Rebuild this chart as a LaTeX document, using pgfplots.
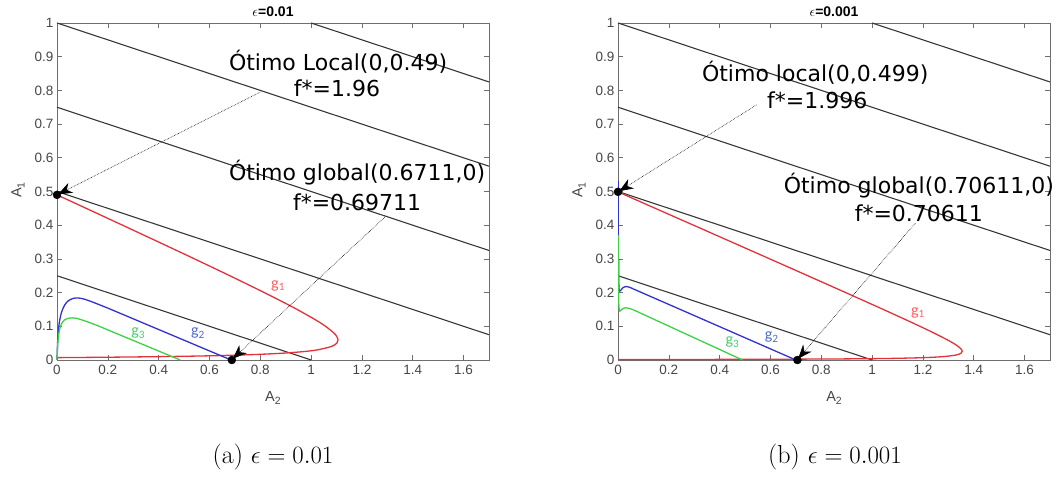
\documentclass[border=0pt]{standalone}
\usepackage{pgfplots}
\pgfplotsset{compat=1.18}
\usepackage{fontspec}
\usetikzlibrary{arrows.meta}
\newfontfamily\dejavu{DejaVu Sans}
\newfontfamily\arial{Liberation Sans}
\newfontfamily\carlito{Carlito}
\definecolor{cred}{RGB}{228,50,60}
\definecolor{cblue}{RGB}{50,50,205}
\definecolor{cgreen}{RGB}{60,210,70}
\definecolor{lred}{RGB}{255,95,95}
\definecolor{lblue}{RGB}{75,110,200}
\definecolor{lgreen}{RGB}{70,205,110}
\definecolor{cont}{RGB}{55,55,55}
\definecolor{tickgray}{RGB}{70,70,70}
\definecolor{axgray}{RGB}{110,110,110}

\pgfplotsset{
  mystyle/.style={
    scale only axis, width=432pt, height=337pt, anchor=south west,
    xmin=0, xmax=1.7, ymin=0, ymax=1, clip=false,
    xtick={0,0.2,0.4,0.6,0.8,1,1.2,1.4,1.6},
    ytick={0,0.1,0.2,0.3,0.4,0.5,0.6,0.7,0.8,0.9,1},
    tick align=inside, major tick length=5pt,
    every tick/.style={axgray, line width=0.6pt},
    axis line style={axgray, line width=0.9pt},
    /pgf/number format/assume math mode=true,
    tick label style={font=\arial\fontsize{13.5}{13.5}\selectfont, text=tickgray},
    xticklabel style={yshift=-2pt},
  },
  contour/.style={cont, line width=1.1pt},
}

\begin{document}
\begin{tikzpicture}
\path[use as bounding box] (0,0) rectangle (1063pt,480pt);

% ---------------- left: epsilon = 0.01 ----------------
\begin{axis}[mystyle, at={(57pt,120pt)}]
\addplot[contour] coordinates {(0,0.25) (1,0)};
\addplot[contour] coordinates {(0,0.5) (1.7,0.075)};
\addplot[contour] coordinates {(0,0.75) (1.7,0.325)};
\addplot[contour] coordinates {(0,1) (1.7,0.575)};
\addplot[contour] coordinates {(1,1) (1.7,0.825)};
% g1
\addplot[cred, line width=1.3pt, smooth] coordinates {
(0,0.49) (0.1148,0.45) (0.2578,0.40) (0.4000,0.35) (0.5411,0.30) (0.6801,0.25)
(0.8159,0.20) (0.8944,0.17) (0.9447,0.15) (1.0154,0.12) (1.0568,0.10)
(1.0897,0.08) (1.1008,0.07) (1.1059,0.059) (1.1011,0.05) (1.0795,0.04)
(1.0242,0.03) (0.9711,0.025) (0.8842,0.02) (0.7689,0.016) (0.6313,0.013)
(0.4952,0.011) (0.2959,0.009) (0.1579,0.008) (0,0.007)};
% g2
\addplot[cblue, line width=1.3pt, smooth] coordinates {
(0,0) (0.002,0.045) (0.005,0.085) (0.01,0.115) (0.018,0.142) (0.03,0.163)
(0.045,0.176) (0.065,0.183) (0.085,0.184) (0.11,0.180) (0.15,0.169) (0.2,0.154)};
\addplot[cblue, line width=1.3pt] coordinates {(0.2,0.154) (0.685,0)};
% g3
\addplot[cgreen, line width=1.3pt, smooth] coordinates {
(0,0) (0.002,0.035) (0.005,0.065) (0.01,0.09) (0.018,0.108) (0.03,0.119)
(0.045,0.124) (0.06,0.125) (0.08,0.123) (0.11,0.116) (0.15,0.105)};
\addplot[cgreen, line width=1.3pt] coordinates {(0.15,0.105) (0.485,0)};
% arrows
\addplot[black, densely dotted, line width=0.6pt, -{Stealth[length=14pt,width=11pt]}] coordinates {(0.8,0.795) (0.005,0.492)};
\addplot[black, densely dotted, line width=0.6pt, -{Stealth[length=14pt,width=11pt]}] coordinates {(1.29,0.424) (0.692,0.004)};
\addplot[only marks, mark=*, mark size=4pt, black] coordinates {(0,0.49) (0.688,0)};
% labels
\node[font=\dejavu\fontsize{22}{22}\selectfont] at (axis cs:1.106,0.884) {Ótimo Local(0,0.49)};
\node[font=\dejavu\fontsize{22}{22}\selectfont] at (axis cs:1.102,0.805) {f*=1.96};
\node[font=\dejavu\fontsize{22}{22}\selectfont] at (axis cs:1.181,0.555) {Ótimo global(0.6711,0)};
\node[font=\dejavu\fontsize{22}{22}\selectfont] at (axis cs:1.181,0.469) {f*=0.69711};
\node[font=\carlito\fontsize{16}{16}\selectfont, text=lred] at (axis cs:0.87,0.22) {g\textsubscript{1}};
\node[font=\carlito\fontsize{16}{16}\selectfont, text=lblue] at (axis cs:0.555,0.08) {g\textsubscript{2}};
\node[font=\carlito\fontsize{16}{16}\selectfont, text=lgreen] at (axis cs:0.32,0.08) {g\textsubscript{3}};
\end{axis}

% ---------------- right: epsilon = 0.001 ----------------
\begin{axis}[mystyle, at={(618pt,120pt)}]
\addplot[contour] coordinates {(0,0.25) (1,0)};
\addplot[contour] coordinates {(0,0.5) (1.7,0.075)};
\addplot[contour] coordinates {(0,0.75) (1.7,0.325)};
\addplot[contour] coordinates {(0,1) (1.7,0.575)};
\addplot[contour] coordinates {(1,1) (1.7,0.825)};
% g1
\addplot[cred, line width=1.3pt, smooth] coordinates {
(0,0.499) (0.1466,0.45) (0.297,0.40) (0.4473,0.35) (0.5973,0.30) (0.747,0.25)
(0.896,0.20) (1.0437,0.15) (1.1309,0.12) (1.188,0.10) (1.2434,0.08)
(1.2955,0.06) (1.319,0.05) (1.3392,0.04) (1.3527,0.03) (1.3546,0.0257)
(1.3496,0.02) (1.3314,0.015) (1.2798,0.01) (1.2032,0.007) (1.0949,0.005)
(0.9979,0.004) (0.8342,0.003) (0.504,0.002) (0.1722,0.0015) (0,0.0013)};
% g2
\addplot[cblue, line width=1.3pt] coordinates {(0.003,0.53) (0.003,0.30)};
\addplot[cblue, line width=1.3pt, smooth] coordinates {
(0.003,0.30) (0.003,0.24) (0.004,0.212) (0.007,0.204) (0.012,0.208) (0.02,0.215)
(0.03,0.218) (0.045,0.216) (0.06,0.211)};
\addplot[cblue, line width=1.3pt] coordinates {(0.06,0.211) (0.70,0)};
% g3
\addplot[cgreen, line width=1.3pt] coordinates {(0.003,0.37) (0.003,0.25)};
\addplot[cgreen, line width=1.3pt, smooth] coordinates {
(0.003,0.25) (0.003,0.18) (0.004,0.155) (0.007,0.145) (0.012,0.148) (0.02,0.153)
(0.03,0.155) (0.045,0.153) (0.06,0.149)};
\addplot[cgreen, line width=1.3pt] coordinates {(0.06,0.149) (0.49,0)};
% arrows
\addplot[black, densely dotted, line width=0.6pt, -{Stealth[length=14pt,width=11pt]}] coordinates {(0.545,0.757) (0.005,0.501)};
\addplot[black, densely dotted, line width=0.6pt, -{Stealth[length=14pt,width=11pt]}] coordinates {(1.17,0.406) (0.709,0.004)};
\addplot[only marks, mark=*, mark size=4pt, black] coordinates {(0,0.499) (0.706,0)};
% labels
\node[font=\dejavu\fontsize{22}{22}\selectfont] at (axis cs:0.776,0.852) {Ótimo local(0,0.499)};
\node[font=\dejavu\fontsize{22}{22}\selectfont] at (axis cs:0.784,0.772) {f*=1.996};
\node[font=\dejavu\fontsize{22}{22}\selectfont] at (axis cs:1.184,0.519) {Ótimo global(0.70611,0)};
\node[font=\dejavu\fontsize{22}{22}\selectfont] at (axis cs:1.184,0.436) {f*=0.70611};
\node[font=\carlito\fontsize{16}{16}\selectfont, text=lred] at (axis cs:1.18,0.14) {g\textsubscript{1}};
\node[font=\carlito\fontsize{16}{16}\selectfont, text=lblue] at (axis cs:0.605,0.068) {g\textsubscript{2}};
\node[font=\carlito\fontsize{16}{16}\selectfont, text=lgreen] at (axis cs:0.45,0.053) {g\textsubscript{3}};
\end{axis}

% titles and axis labels
\node[font=\arial\bfseries\fontsize{14}{14}\selectfont] at (273pt,468pt) {$\epsilon$=0.01};
\node[font=\arial\bfseries\fontsize{14}{14}\selectfont] at (834pt,468pt) {$\epsilon$=0.001};
\node[font=\arial\fontsize{14.5}{14.5}\selectfont, text=tickgray] at (273pt,82pt) {A\raisebox{-0.45ex}{\fontsize{10.5}{10.5}\selectfont 2}};
\node[font=\arial\fontsize{14.5}{14.5}\selectfont, text=tickgray] at (834pt,82pt) {A\raisebox{-0.45ex}{\fontsize{10.5}{10.5}\selectfont 2}};
\node[font=\arial\fontsize{14.5}{14.5}\selectfont, text=tickgray, rotate=90] at (18pt,290pt) {A\raisebox{-0.45ex}{\fontsize{10.5}{10.5}\selectfont 1}};
\node[font=\arial\fontsize{14.5}{14.5}\selectfont, text=tickgray, rotate=90] at (579pt,290pt) {A\raisebox{-0.45ex}{\fontsize{10.5}{10.5}\selectfont 1}};

% captions
\node[font=\fontsize{26}{26}\selectfont] at (273pt,23pt) {(a) $\epsilon = 0.01$};
\node[font=\fontsize{26}{26}\selectfont] at (835pt,23pt) {(b) $\epsilon = 0.001$};
\end{tikzpicture}
\end{document}
